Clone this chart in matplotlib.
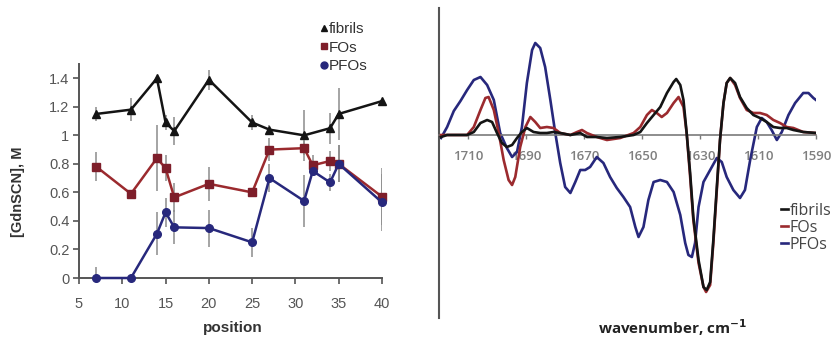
import numpy as np
import matplotlib
matplotlib.use("Agg")
import matplotlib.pyplot as plt
from matplotlib.lines import Line2D
from matplotlib.ticker import FuncFormatter

# left panel: denaturation midpoint vs position
pos_fib = [7, 11, 14, 15, 16, 20, 25, 27, 31, 34, 35, 40]
fib = [1.15, 1.18, 1.40, 1.09, 1.03, 1.39, 1.09, 1.04, 1.00, 1.05, 1.15, 1.24]
fib_err = [0.05, 0.08, 0.0, 0.05, 0.10, 0.07, 0.05, 0.03, 0.18, 0.11, 0.18, 0.0]

pos_fo = [7, 11, 14, 15, 16, 20, 25, 27, 31, 32, 34, 35, 40]
fos = [0.78, 0.59, 0.84, 0.77, 0.565, 0.66, 0.60, 0.90, 0.91, 0.79, 0.82, 0.80, 0.57]
fos_err = [0.10, 0.0, 0.23, 0.09, 0.10, 0.12, 0.02, 0.08, 0.05, 0.07, 0.07, 0.13, 0.20]

pos_pfo = [7, 11, 14, 15, 16, 20, 25, 27, 31, 32, 34, 35, 40]
pfos = [0.0, 0.0, 0.31, 0.46, 0.355, 0.35, 0.25, 0.70, 0.54, 0.75, 0.67, 0.80, 0.53]
pfos_err = [0.08, 0.0, 0.15, 0.10, 0.12, 0.13, 0.10, 0.10, 0.18, 0.03, 0.06, 0.13, 0.20]

# right panel: second derivative spectra
fib_wn = [1719.3, 1717.2, 1714.9, 1710.3, 1708.0, 1705.7, 1703.4, 1701.7, 1700.0, 1698.3,
          1696.6, 1694.8, 1693.1, 1691.4, 1689.7, 1687.4, 1685.1, 1682.8, 1680.5, 1678.2,
          1674.7, 1671.3, 1669.0, 1665.6, 1662.1, 1657.5, 1652.9, 1650.6, 1648.3, 1646.0,
          1643.7, 1641.4, 1639.1, 1638.2, 1636.8, 1635.7, 1634.6, 1633.4, 1632.3, 1630.5,
          1628.8, 1627.7, 1626.5, 1625.4, 1624.2, 1623.1, 1621.9, 1620.8, 1619.6, 1617.9,
          1616.2, 1613.9, 1611.6, 1609.3, 1607.0, 1604.7, 1602.4, 1600.1, 1597.8, 1594.4, 1590.0]
fib_d2 = [-0.02, 0, 0, 0, 0.03, 0.12, 0.15, 0.13, 0.02, -0.08,
          -0.12, -0.10, -0.03, 0.03, 0.07, 0.03, 0.02, 0.02, 0.03, 0.02,
          0, 0.02, -0.02, -0.02, -0.03, -0.02, 0, 0.03, 0.12, 0.2,
          0.28, 0.42, 0.53, 0.56, 0.5, 0.35, 0.02, -0.38, -0.82, -1.25,
          -1.52, -1.55, -1.47, -1.05, -0.52, -0.05, 0.32, 0.52, 0.57, 0.52,
          0.38, 0.27, 0.2, 0.17, 0.13, 0.08, 0.07, 0.07, 0.05, 0.03, 0.02]

fo_wn = [1719.3, 1710.3, 1708.0, 1705.7, 1704.0, 1702.9, 1701.1, 1699.4, 1697.7, 1696.0,
         1694.8, 1693.7, 1692.0, 1690.2, 1688.5, 1686.8, 1685.1, 1682.8, 1680.5, 1678.2,
         1674.7, 1672.4, 1670.7, 1669.0, 1665.6, 1662.1, 1657.5, 1652.9, 1650.6, 1648.3,
         1646.6, 1644.9, 1643.2, 1641.4, 1639.1, 1637.4, 1635.7, 1634.6, 1633.4, 1632.3,
         1630.5, 1628.8, 1627.9, 1626.5, 1625.4, 1624.2, 1623.1, 1621.9, 1620.8, 1619.6,
         1617.9, 1616.2, 1613.9, 1611.6, 1609.3, 1607.0, 1604.7, 1602.4, 1600.1, 1597.8,
         1594.4, 1590.0]
fo_d2 = [0, 0, 0.08, 0.25, 0.37, 0.38, 0.25, 0.02, -0.25, -0.45,
         -0.5, -0.42, -0.12, 0.08, 0.18, 0.13, 0.07, 0.08, 0.07, 0.02,
         0, 0.03, 0.05, 0.02, -0.02, -0.05, -0.03, 0.02, 0.08, 0.2,
         0.25, 0.22, 0.18, 0.22, 0.32, 0.38, 0.28, 0.02, -0.42, -0.85,
         -1.28, -1.52, -1.57, -1.5, -1.08, -0.55, -0.05, 0.32, 0.52, 0.57,
         0.5, 0.37, 0.25, 0.22, 0.22, 0.2, 0.15, 0.12, 0.08, 0.07,
         0.03, 0.02]

pfo_wn = [1719.3, 1717.2, 1714.9, 1712.6, 1710.3, 1708.0, 1705.7, 1703.4, 1701.1, 1698.9,
          1696.6, 1694.8, 1693.1, 1691.4, 1689.7, 1687.9, 1686.8, 1685.1, 1683.4, 1681.6,
          1679.9, 1678.2, 1676.5, 1674.7, 1673.0, 1671.3, 1669.6, 1667.9, 1665.6, 1663.3,
          1661.0, 1658.7, 1656.4, 1654.1, 1652.3, 1651.2, 1649.5, 1647.8, 1646.0, 1643.7,
          1641.4, 1639.1, 1636.8, 1635.1, 1634.0, 1632.8, 1631.7, 1630.5, 1628.8, 1626.5,
          1624.2, 1622.5, 1620.8, 1618.5, 1616.2, 1614.5, 1612.7, 1610.4, 1608.7, 1607.0,
          1605.3, 1603.5, 1601.8, 1599.5, 1597.2, 1594.4, 1592.6, 1590.9, 1590.0]
pfo_d2 = [-0.03, 0.08, 0.24, 0.34, 0.45, 0.55, 0.58, 0.50, 0.35, 0.02,
          -0.13, -0.22, -0.17, 0.08, 0.52, 0.85, 0.92, 0.87, 0.68, 0.35,
          0.02, -0.28, -0.52, -0.58, -0.47, -0.35, -0.35, -0.32, -0.22, -0.28,
          -0.42, -0.53, -0.62, -0.72, -0.92, -1.02, -0.92, -0.65, -0.47, -0.45,
          -0.47, -0.57, -0.8, -1.08, -1.20, -1.22, -1.08, -0.72, -0.47, -0.35,
          -0.23, -0.27, -0.42, -0.55, -0.63, -0.55, -0.25, 0.08, 0.17, 0.13,
          0.05, -0.05, 0.03, 0.2, 0.32, 0.42, 0.42, 0.37, 0.35]

# colours
c_fib = '#141414'
c_fo = '#9b2a2e'
c_fo_mk = '#7e1e2a'
c_pfo = '#27287c'
grey = '#8c8c8c'

fig = plt.figure(figsize=(8.31, 3.37), dpi=100)

# ---------- left panel ----------
axL = fig.add_axes([79/831, 1-278/337, 303/831, 214/337])
sans = 'Liberation Sans'

for p, v, e in [(pos_fib, fib, fib_err), (pos_fo, fos, fos_err), (pos_pfo, pfos, pfos_err)]:
    axL.errorbar(p, v, yerr=e, fmt='none', ecolor=grey, elinewidth=1.1, capsize=0, zorder=1)

axL.plot(pos_fib, fib, color=c_fib, lw=1.8, marker='^', ms=5.5, mfc=c_fib, mec=c_fib,
         clip_on=False, zorder=3, label='fibrils')
axL.plot(pos_fo, fos, color=c_fo, lw=1.8, marker='s', ms=5.5, mfc=c_fo_mk, mec=c_fo_mk,
         clip_on=False, zorder=3, label='FOs')
axL.plot(pos_pfo, pfos, color=c_pfo, lw=1.8, marker='o', ms=5.5, mfc=c_pfo, mec=c_pfo,
         clip_on=False, zorder=4, label='PFOs')

axL.set_xlim(5, 40)
axL.set_ylim(0, 1.5)
axL.set_xticks(range(5, 41, 5))
axL.set_yticks(np.arange(0, 1.41, 0.2))
axL.yaxis.set_major_formatter(FuncFormatter(lambda v, _: f"{v:g}"))
for s in ['top', 'right']:
    axL.spines[s].set_visible(False)
for s in ['left', 'bottom']:
    axL.spines[s].set_color('#555555')
    axL.spines[s].set_linewidth(1.4)
axL.tick_params(direction='out', length=4, width=1.2, color='#555555',
                labelsize=10.5, labelcolor='#555555', pad=3)
axL.tick_params(axis='x', pad=10)
for t in axL.get_xticklabels() + axL.get_yticklabels():
    t.set_family(sans)

fig.text(233/831, 1-328/337, 'position', ha='center', va='center',
         fontsize=11, fontweight='bold', family=sans, color='#333333')
fig.text(18/831, 1-192/337, '[GdnSCN], M', ha='center', va='center', rotation=90,
         fontsize=10.5, fontweight='bold', family=sans, color='#333333')

leg_handles = [Line2D([], [], ls='none', marker='^', ms=5, color=c_fib),
               Line2D([], [], ls='none', marker='s', ms=5, color=c_fo_mk),
               Line2D([], [], ls='none', marker='o', ms=5, color=c_pfo)]
fig.legend(leg_handles, ['fibrils', 'FOs', 'PFOs'], loc='upper left',
           bbox_to_anchor=(320/831, 1-22/337), frameon=False, handlelength=0.5,
           handletextpad=0.05, labelspacing=0.3, borderpad=0, borderaxespad=0,
           prop={'family': sans, 'size': 11}, labelcolor='#333333')

# ---------- right panel ----------
axR = fig.add_axes([439/831, 1-318/337, 377/831, 310/337])
axR.plot(pfo_wn, pfo_d2, color=c_pfo, lw=1.9, zorder=2)
axR.plot(fo_wn, fo_d2, color=c_fo, lw=1.9, zorder=3)
axR.plot(fib_wn, fib_d2, color=c_fib, lw=1.9, zorder=4)

axR.set_xlim(1720, 1590)
axR.set_ylim(-1.83, 1.27)
axR.spines['top'].set_visible(False)
axR.spines['right'].set_visible(False)
axR.spines['bottom'].set_position(('data', 0))
axR.spines['bottom'].set_color('#7a7a7a')
axR.spines['bottom'].set_linewidth(1.2)
axR.spines['left'].set_color('#555555')
axR.spines['left'].set_linewidth(1.5)
axR.set_yticks([])
axR.set_xticks(range(1710, 1589, -20))
axR.tick_params(axis='x', direction='out', length=3, width=1, color='#7a7a7a',
                labelsize=9.5, labelcolor='#7f7f7f', pad=8)
for t in axR.get_xticklabels():
    t.set_family('Open Sans')
    t.set_fontweight('semibold')

fig.text(673/831, 1-328/337, 'wavenumber, cm$^{\\mathbf{-1}}$', ha='center', va='center',
         fontsize=11, fontweight='bold', family='Open Sans', color='#222222')

legR = [Line2D([], [], color=c_fib, lw=1.9),
        Line2D([], [], color=c_fo, lw=1.9),
        Line2D([], [], color=c_pfo, lw=1.9)]
fig.legend(legR, ['fibrils', 'FOs', 'PFOs'], loc='upper left',
           bbox_to_anchor=(781/831, 1-203/337), frameon=False, handlelength=0.45,
           handletextpad=0.1, labelspacing=0.05, borderpad=0, borderaxespad=0,
           prop={'family': 'Open Sans', 'size': 11.5}, labelcolor='#444444')

fig.savefig('out.png', dpi=100)
